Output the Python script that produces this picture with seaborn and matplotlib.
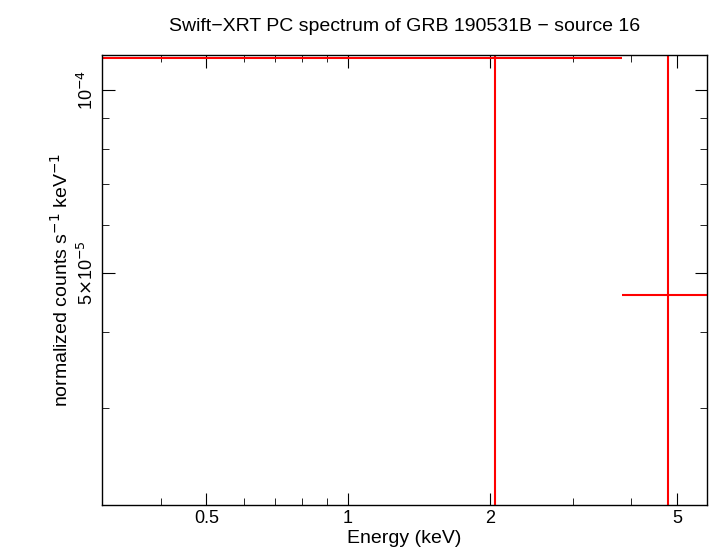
import matplotlib
matplotlib.use("Agg")
import matplotlib.pyplot as plt
import matplotlib.ticker as mticker
import seaborn as sns
import numpy as np

# spectrum bins (keV) and normalized counts
energy = [2.05, 4.78]
e_lo = [0.30, 3.82]
e_hi = [3.82, 6.2]
rate = [1.13e-4, 4.60e-5]
rate_lo = [1.0e-5, 1.0e-5]
rate_hi = [3.0e-4, 3.0e-4]

sns.set_style("ticks")
plt.rcParams["font.family"] = "Liberation Sans"
plt.rcParams["text.color"] = "black"
plt.rcParams["axes.labelcolor"] = "black"
plt.rcParams["xtick.color"] = "black"
plt.rcParams["ytick.color"] = "black"

fig = plt.figure(figsize=(7.1, 5.56), dpi=100)
ax = fig.add_axes([102 / 710, 1 - 505 / 556, 605 / 710, 450 / 556])

x = np.array(energy)
y = np.array(rate)
xerr = [x - np.array(e_lo), np.array(e_hi) - x]
yerr = [y - np.array(rate_lo), np.array(rate_hi) - y]
ax.errorbar(x, y, xerr=xerr, yerr=yerr, fmt="none", ecolor="red", elinewidth=1.5, capsize=0)

ax.set_xscale("log")
ax.set_yscale("log")
ax.set_xlim(0.300, 5.79)
ax.set_ylim(2.077e-5, 1.142e-4)

ax.set_xticks([0.5, 1, 2, 5])
ax.set_xticklabels(["0.5", "1", "2", "5"])
ax.xaxis.set_minor_formatter(mticker.NullFormatter())
ax.set_yticks([5e-5, 1e-4])
ax.set_yticklabels([r"5$\times$10$^{-5}$", r"10$^{-4}$"], rotation=90, va="center")
ax.yaxis.set_minor_locator(mticker.FixedLocator([3e-5, 4e-5, 6e-5, 7e-5, 8e-5, 9e-5]))
ax.yaxis.set_minor_formatter(mticker.NullFormatter())

ax.tick_params(which="both", direction="in", top=True, right=True, labelsize=13, color="black")
ax.tick_params(which="major", length=9)
ax.tick_params(which="minor", length=5)
for s in ax.spines.values():
    s.set_color("black")
    s.set_linewidth(1)

ax.set_xlabel("Energy (keV)", fontsize=14, labelpad=2)
ax.set_ylabel(r"normalized counts s$^{-1}$ keV$^{-1}$", fontsize=14)
ax.set_title("Swift\u2212XRT PC spectrum of GRB 190531B \u2212 source 16", fontsize=14, pad=17)

fig.savefig("out.png", dpi=100)
